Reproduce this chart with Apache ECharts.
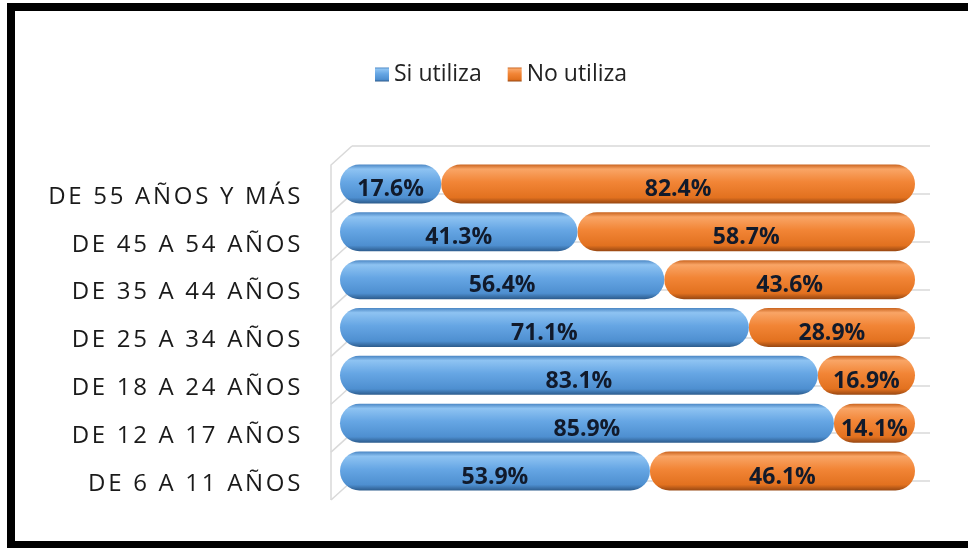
<!DOCTYPE html>
<html>
<head>
<meta charset="utf-8">
<script src="https://cdn.jsdelivr.net/npm/echarts@6/dist/echarts.min.js"></script>
<style>
html,body{margin:0;padding:0;background:#fff;}
#wrap{position:relative;width:968px;height:548px;overflow:hidden;}
#chart{position:absolute;left:0;top:0;width:968px;height:548px;}
.b{position:absolute;background:#000;pointer-events:none;}
</style>
</head>
<body>
<div id="wrap">
<div id="chart"></div>
<div class="b" style="left:7px;top:3px;width:961px;height:8px;"></div>
<div class="b" style="left:7px;top:3px;width:8px;height:545px;"></div>
<div class="b" style="left:7px;top:541px;width:961px;height:7px;"></div>
</div>
<script>
// Data (top to bottom as in the picture)
var categories = ['DE 55 AÑOS Y MÁS','DE 45 A 54 AÑOS','DE 35 A 44 AÑOS','DE 25 A 34 AÑOS','DE 18 A 24 AÑOS','DE 12 A 17 AÑOS','DE 6 A 11 AÑOS'];
var siUtiliza = [17.6, 41.3, 56.4, 71.1, 83.1, 85.9, 53.9];
var noUtiliza = [82.4, 58.7, 43.6, 28.9, 16.9, 14.1, 46.1];
var seriesNames = ['Si utiliza', 'No utiliza'];
var wallLevels = [0,1,2,3,4,5,6,7];

// letter-spaced category labels (the reference uses tracked capitals)
(function(){
  var proto = CanvasRenderingContext2D.prototype;
  if (!('letterSpacing' in proto)) return;
  var orig = proto.fillText;
  proto.fillText = function(t, x, y, w){
    var f = this.font || '';
    var want = (f.indexOf('24px') >= 0) ? '2.7px' : '0px';
    if (this.letterSpacing !== want) {
      this.letterSpacing = want;
      this.font = f;
    }
    return orig.apply(this, arguments);
  };
})();

var chart = echarts.init(document.getElementById('chart'), null, {renderer:'canvas'});

var blueGrad = new echarts.graphic.LinearGradient(0,0,0,1,[
  {offset:0, color:'#4a86c4'},
  {offset:0.12, color:'#8ec3f2'},
  {offset:0.45, color:'#66a6e4'},
  {offset:0.85, color:'#4e8fd0'},
  {offset:1, color:'#2c5b8c'}
]);
var orangeGrad = new echarts.graphic.LinearGradient(0,0,0,1,[
  {offset:0, color:'#c9631e'},
  {offset:0.12, color:'#f9a566'},
  {offset:0.45, color:'#f28536'},
  {offset:0.85, color:'#e2711f'},
  {offset:1, color:'#974712'}
]);

var labelStyle = {
  show:true, position:'inside', offset:[0,6],
  formatter: function(p){ return p.value.toFixed(1) + '%'; },
  fontFamily:'Open Sans', fontWeight:'bold', fontSize:23, color:'#111a2b'
};

var option = {
  animation:false,
  backgroundColor:'#ffffff',
  legend:{
    data:seriesNames,
    left:370, top:58,
    itemWidth:14, itemHeight:14, itemGap:26,
    icon:'rect',
    textStyle:{fontFamily:'Open Sans', fontSize:23, color:'#222'}
  },
  grid:[
    {left:340, right:53, top:160, height:335, containLabel:false},
    {left:352, right:38, top:146, height:335, containLabel:false}
  ],
  xAxis:[
    {gridIndex:0, type:'value', min:0, max:100, show:false},
    {gridIndex:1, type:'value', min:0, max:1, show:false}
  ],
  yAxis:[
    {gridIndex:0, type:'category', data:categories, inverse:true,
     axisLine:{show:false}, axisTick:{show:false}, splitLine:{show:false},
     axisLabel:{margin:37, fontFamily:'Open Sans', fontSize:24, color:'#1a1a1a', verticalAlign:'top', lineHeight:26}},
    {gridIndex:1, type:'value', min:0, max:7, interval:1, inverse:true,
     axisLine:{show:false}, axisTick:{show:false}, axisLabel:{show:false},
     splitLine:{show:true, lineStyle:{color:'#d9d9d9', width:1.5}}}
  ],
  series:[
    {
      type:'custom', xAxisIndex:1, yAxisIndex:1, silent:true, z:1,
      data:wallLevels,
      renderItem:function(params, api){
        var i = api.value(0);
        var p1 = api.coord([0, i]);
        var pts = [p1, [p1[0]-21, p1[1]+19]];
        if (i < 7) {
          var p2 = api.coord([0, i+1]);
          pts.push([p2[0]-21, p2[1]+19]);
        }
        return {type:'polyline', shape:{points:pts},
          style:{stroke:'#d9d9d9', lineWidth:1.5, fill:null}};
      }
    },
    {
      name:seriesNames[0], type:'bar', stack:'t', xAxisIndex:0, yAxisIndex:0,
      data:siUtiliza, barWidth:39, z:4,
      itemStyle:{color:blueGrad, borderRadius:19.5},
      label:labelStyle
    },
    {
      name:seriesNames[1], type:'bar', stack:'t', xAxisIndex:0, yAxisIndex:0,
      data:noUtiliza, barWidth:39, z:3,
      itemStyle:{color:orangeGrad, borderRadius:19.5},
      label:labelStyle
    }
  ]
};
chart.setOption(option);
</script>
</body>
</html>
